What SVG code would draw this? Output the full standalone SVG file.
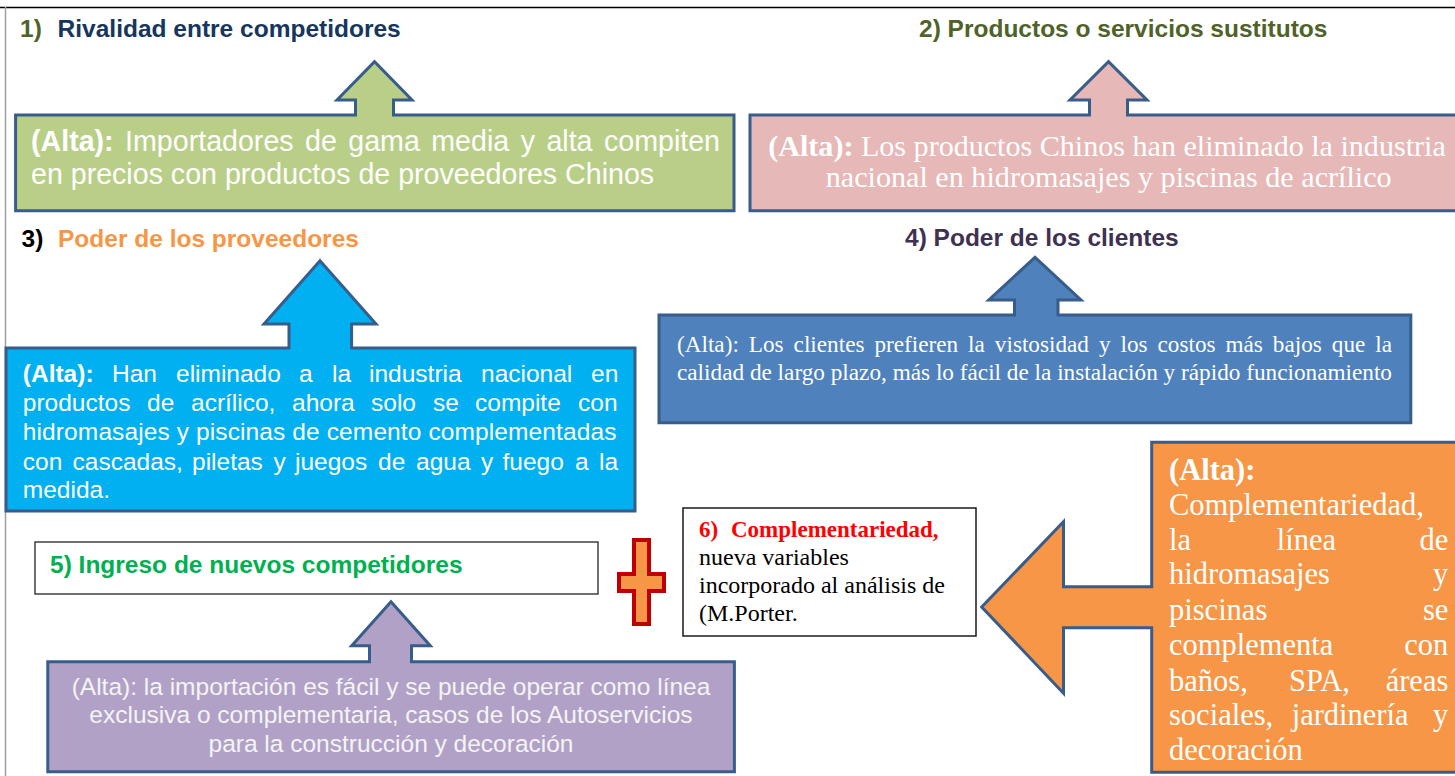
<svg xmlns="http://www.w3.org/2000/svg" width="1455" height="776" viewBox="0 0 1455 776">
<style>
.callout{stroke:#385D8A;stroke-width:3;stroke-linejoin:miter}
.title{font-family:"Liberation Sans",Arial,sans-serif;font-weight:bold;font-size:24.5px}
.sans{font-family:"Liberation Sans",Arial,sans-serif}
.serif{font-family:"Liberation Serif","Times New Roman",serif}
.w{fill:#FFFFFF}
.b{font-weight:bold}
</style>
<rect x="0" y="0" width="1455" height="776" fill="#FFFFFF"/>
<g id="frame">
<line x1="0" y1="7.5" x2="1455" y2="7.5" stroke="#000000" stroke-width="1.5"/>
<line x1="5.5" y1="7" x2="5.5" y2="776" stroke="#A0A0A0" stroke-width="1.5"/>
</g>
<g id="connectors"></g>

<g id="title1">
<text class="title" y="37"><tspan x="20" fill="#4F6228">1)</tspan><tspan x="57.6" fill="#17365D">Rivalidad entre competidores</tspan></text>
</g>
<g id="title2">
<text class="title" x="919" y="37" fill="#4F6228">2) Productos o servicios sustitutos</text>
</g>
<g id="title3">
<text class="title" y="246.5"><tspan x="21.6" fill="#000000">3)</tspan><tspan x="58" fill="#F79646">Poder de los proveedores</tspan></text>
</g>
<g id="title4">
<text class="title" x="905" y="246" fill="#3F3151">4) Poder de los clientes</text>
</g>

<g id="rivalidad">
<path class="callout" fill="#B9CF88" d="M15.6,115 H355.5 V100 H337 L374.5,61.7 L412,100 H393.5 V115 H734 V210.7 H15.6 Z"/>
<text class="sans w" font-size="28.6" x="31" y="151.3" word-spacing="3.5" textLength="689" lengthAdjust="spacing"><tspan class="b">(Alta):</tspan> Importadores de gama media y alta compiten</text>
<text class="sans w" font-size="28.6" x="31" y="183.7">en precios con productos de proveedores Chinos</text>
</g>

<g id="sustitutos">
<path class="callout" fill="#E6B8B7" d="M750,115 H1089.5 V100 H1070 L1108.5,61.7 L1147,100 H1127.5 V115 H1470 V210.7 H750 Z"/>
<text class="serif w" font-size="30" x="1107" y="155.5" text-anchor="middle" textLength="677.5" lengthAdjust="spacingAndGlyphs"><tspan class="b">(Alta):</tspan> Los productos Chinos han eliminado la industria</text>
<text class="serif w" font-size="30" x="1108.7" y="186.7" text-anchor="middle" textLength="566" lengthAdjust="spacingAndGlyphs">nacional en hidromasajes y piscinas de acrílico</text>
</g>

<g id="proveedores">
<path class="callout" fill="#00B0F0" d="M6,348 H289 V324 H264 L320,260.7 L376,324 H351.6 V348 H635 V511 H6 Z"/>
<g class="sans w" font-size="24.5">
<text y="381.7"><tspan x="22.8" class="b">(Alta):</tspan><tspan x="112">Han</tspan><tspan x="176">eliminado</tspan><tspan x="299">a</tspan><tspan x="332">la</tspan><tspan x="369">industria</tspan><tspan x="481">nacional</tspan><tspan x="591">en</tspan></text>
<text y="411"><tspan x="22.8">productos</tspan><tspan x="147">de</tspan><tspan x="191">acrílico,</tspan><tspan x="292">ahora</tspan><tspan x="371">solo</tspan><tspan x="433">se</tspan><tspan x="475">compite</tspan><tspan x="578">con</tspan></text>
<text x="22.8" y="440" textLength="593.7" lengthAdjust="spacing">hidromasajes y piscinas de cemento complementadas</text>
<text y="470"><tspan x="22.8">con</tspan><tspan x="72.5">cascadas,</tspan><tspan x="192">piletas</tspan><tspan x="273.6">y</tspan><tspan x="295">juegos</tspan><tspan x="378">de</tspan><tspan x="416">agua</tspan><tspan x="481">y</tspan><tspan x="502.5">fuego</tspan><tspan x="575">a</tspan><tspan x="599">la</tspan></text>
<text x="22.8" y="498">medida.</text>
</g>
</g>

<g id="clientes">
<path class="callout" fill="#4F81BD" d="M659,315 H1014.5 V300 H988.8 L1035,257.3 L1081,300 H1058 V315 H1410.8 V422.7 H659 Z"/>
<text class="serif w" font-size="23.2" x="677" y="351.7" word-spacing="4.2" textLength="715" lengthAdjust="spacing">(Alta): Los clientes prefieren la vistosidad y los costos más bajos que la</text>
<text class="serif w" font-size="23.2" x="677" y="380" textLength="715" lengthAdjust="spacingAndGlyphs">calidad de largo plazo, más lo fácil de la instalación y rápido funcionamiento</text>
</g>

<g id="nuevos">
<rect x="35" y="542" width="563" height="52" fill="#FFFFFF" stroke="#404040" stroke-width="1.5"/>
<text class="title" x="50" y="572.7" fill="#00B050">5) Ingreso de nuevos competidores</text>
</g>

<g id="ingreso">
<path class="callout" fill="#B2A1C7" d="M47.8,661.7 H369.5 V645.7 H351.7 L391,601.7 L430.3,645.7 H411.5 V661.7 H734.4 V771.7 H47.8 Z"/>
<g class="sans" font-size="24.5" fill="#F4F4F4" text-anchor="middle">
<text x="391" y="695">(Alta): la importación es fácil y se puede operar como línea</text>
<text x="391" y="723.3">exclusiva o complementaria, casos de los Autoservicios</text>
<text x="391" y="752.3">para la construcción y decoración</text>
</g>
</g>

<g id="cruz">
<path d="M634,540 H649 V574 H664 V591 H649 V624 H634 V591 H619 V574 H634 Z" fill="#F79646" stroke="#C00000" stroke-width="4"/>
</g>

<g id="complementariedad">
<rect x="683" y="508" width="293" height="128" fill="#FFFFFF" stroke="#1A1A1A" stroke-width="1.5"/>
<text class="serif b" font-size="23" fill="#FF0000" y="537.3"><tspan x="699">6)</tspan><tspan x="731">Complementariedad,</tspan></text>
<g class="serif" font-size="24" fill="#000000">
<text x="699" y="565">nueva variables</text>
<text x="699" y="593.3">incorporado al análisis de</text>
<text x="699" y="620.7">(M.Porter.</text>
</g>
</g>

<g id="complemento">
<path class="callout" fill="#F79646" d="M1151.7,442.3 H1470 V772.3 H1151.7 V627.7 H1063.5 V693.3 L981.7,607 L1063.5,521.7 V586.7 H1151.7 Z"/>
<g class="serif w" font-size="30.5">
<text x="1169" y="480" class="b">(Alta):</text>
<text x="1169" y="515">Complementariedad,</text>
<text y="550"><tspan x="1169">la</tspan><tspan x="1276.7">línea</tspan><tspan x="1448.3" text-anchor="end">de</tspan></text>
<text y="584"><tspan x="1169">hidromasajes</tspan><tspan x="1448.3" text-anchor="end">y</tspan></text>
<text y="620"><tspan x="1169">piscinas</tspan><tspan x="1448.3" text-anchor="end">se</tspan></text>
<text y="655"><tspan x="1169">complementa</tspan><tspan x="1448.3" text-anchor="end">con</tspan></text>
<text y="691"><tspan x="1169">baños,</tspan><tspan x="1289">SPA,</tspan><tspan x="1448.3" text-anchor="end">áreas</tspan></text>
<text y="725"><tspan x="1169">sociales,</tspan><tspan x="1291.7">jardinería</tspan><tspan x="1448.3" text-anchor="end">y</tspan></text>
<text x="1169" y="760">decoración</text>
</g>
</g>
</svg>
